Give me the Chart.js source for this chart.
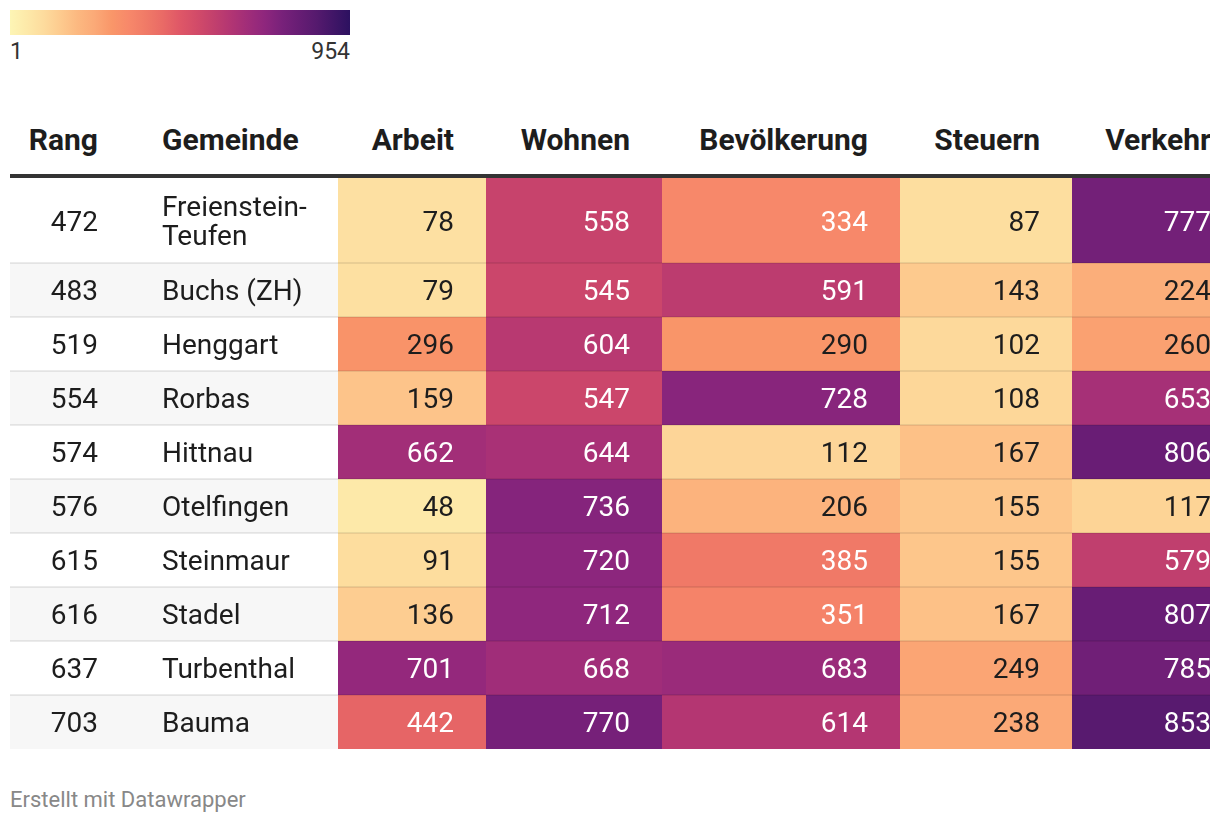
<!DOCTYPE html>
<html>
<head>
<meta charset="utf-8">
<script src="https://cdn.jsdelivr.net/npm/chart.js@4.4.1/dist/chart.umd.min.js"></script>
<style>
    html, body { margin: 0; padding: 0; background: #fff; overflow: hidden; width: 1220px; height: 824px; font-family: Roboto, "Noto Sans", sans-serif; }
    #legendBar { position: absolute; left: 10px; top: 10px; width: 340px; height: 25px; }
    .legendLabel { position: absolute; top: 38px; font-size: 23px; line-height: 28px; color: #333; }
    #tableWrap { position: absolute; left: 10px; top: 100px; width: 1200px; height: 650px; overflow: hidden; }
    #header { position: absolute; left: 0; top: 0; width: 1233px; height: 74px; }
    .th { position: absolute; top: 22px; font-size: 30px; font-weight: 700; line-height: 36px; color: #1d1d1d; white-space: nowrap; box-sizing: border-box; }
    #rule { position: absolute; left: 0; top: 74px; width: 1233px; height: 4px; background: #333; }
    #chartBox { position: absolute; left: 0; top: 78px; }
    #footer { position: absolute; left: 10px; top: 787px; font-size: 22px; line-height: 26px; color: #888; }
</style>
</head>
<body>
<div id="legendBar"></div>
<div class="legendLabel" id="legendMin" style="left:10px"></div>
<div class="legendLabel" id="legendMax" style="right:870px"></div>

<div id="tableWrap">
    <div id="header"></div>
    <div id="rule"></div>
    <div id="chartBox"><canvas id="heatTable"></canvas></div>
</div>

<div id="footer">Erstellt mit Datawrapper</div>

<script>
// Table data
const rang = [472, 483, 519, 554, 574, 576, 615, 616, 637, 703];
const gemeinde = ['Freienstein-Teufen', 'Buchs (ZH)', 'Henggart', 'Rorbas', 'Hittnau', 'Otelfingen', 'Steinmaur', 'Stadel', 'Turbenthal', 'Bauma'];
const arbeit = [78, 79, 296, 159, 662, 48, 91, 136, 701, 442];
const wohnen = [558, 545, 604, 547, 644, 736, 720, 712, 668, 770];
const bevoelkerung = [334, 591, 290, 728, 112, 206, 385, 351, 683, 614];
const steuern = [87, 143, 102, 108, 167, 155, 155, 167, 249, 238];
const verkehr = [777, 224, 260, 653, 806, 117, 579, 807, 785, 853];
const columnLabels = ['Rang', 'Gemeinde', 'Arbeit', 'Wohnen', 'Bevölkerung', 'Steuern', 'Verkehr'];

// Colour scale (legend range 1 - 954)
const scaleMin = 1;
const scaleMax = 954;
const scaleStops = [0, 0.05, 0.10, 0.15, 0.20, 0.25, 0.30, 0.35, 0.40, 0.45, 0.50, 0.55, 0.60, 0.65, 0.70, 0.75, 0.80, 0.85, 0.90, 1];
const scaleColors = ['#fdf5b5', '#fde9a9', '#fddb9d', '#fdca8e', '#fcb880', '#fba977', '#f99669', '#f7886a', '#f07a67', '#e96a66',
                     '#df5767', '#d24b69', '#c2406d', '#b23573', '#a02d79', '#8e267d', '#78217a', '#671d74', '#561a6e', '#2c1160'];

// Layout
const colEdges = [0, 120, 328, 476, 652, 890, 1062, 1233];
const cellPad = 32;
const bodyFont = '28px Roboto, "Noto Sans", sans-serif';
const lineGap = 29;

function hexToRgb(h) {
    return [parseInt(h.slice(1, 3), 16), parseInt(h.slice(3, 5), 16), parseInt(h.slice(5, 7), 16)];
}

function heatColor(v) {
    const t = Math.max(0, Math.min(1, (v - scaleMin) / (scaleMax - scaleMin)));
    let i = 0;
    while (i < scaleStops.length - 2 && t > scaleStops[i + 1]) i++;
    const f = (t - scaleStops[i]) / (scaleStops[i + 1] - scaleStops[i]);
    const a = hexToRgb(scaleColors[i]), b = hexToRgb(scaleColors[i + 1]);
    const c = a.map((x, k) => Math.round(x + (b[k] - x) * f));
    return 'rgb(' + c.join(',') + ')';
}

// Legend
document.getElementById('legendBar').style.background = 'linear-gradient(to right, ' +
    scaleColors.map((c, i) => c + ' ' + (scaleStops[i] * 100) + '%').join(', ') + ')';
document.getElementById('legendMin').textContent = scaleMin;
document.getElementById('legendMax').textContent = scaleMax;

// Header
const header = document.getElementById('header');
columnLabels.forEach((label, c) => {
    const th = document.createElement('div');
    th.className = 'th';
    th.textContent = label;
    if (c === 1) {
        th.style.left = (colEdges[c] + cellPad) + 'px';
    } else {
        th.style.right = (colEdges[colEdges.length - 1] - colEdges[c + 1] + cellPad) + 'px';
    }
    header.appendChild(th);
});

// Wrap long names (break after hyphen)
const measureCtx = document.createElement('canvas').getContext('2d');
measureCtx.font = bodyFont;
function wrapText(text, maxWidth) {
    const parts = text.split(/(?<=-)|\s+/);
    const lines = [];
    let line = '';
    parts.forEach(p => {
        const sep = line && !line.endsWith('-') ? ' ' : '';
        const test = line + sep + p;
        if (line && measureCtx.measureText(test).width > maxWidth) {
            lines.push(line);
            line = p;
        } else {
            line = test;
        }
    });
    lines.push(line);
    return lines;
}

const nameLines = gemeinde.map(g => wrapText(g, colEdges[2] - colEdges[1] - 2 * cellPad + 6));
const rowHeights = nameLines.map(l => l.length > 1 ? 85 : 54);
const rowTops = [];
let total = 0;
rowHeights.forEach(h => { rowTops.push(total); total += h; });
const rowCenters = rowTops.map((t, r) => t + rowHeights[r] / 2);

const columns = [rang, gemeinde, arbeit, wohnen, bevoelkerung, steuern, verkehr];

// Separators and cell texts
const cellTextPlugin = {
    id: 'cellText',
    afterDatasetsDraw(chart) {
        const ctx = chart.ctx;
        const yScale = chart.scales.y;
        const area = chart.chartArea;
        ctx.save();
        ctx.fillStyle = 'rgba(0,0,0,0.08)';
        rowTops.forEach((t, r) => {
            if (r === 0) return;
            const py = yScale.getPixelForValue(t);
            ctx.fillRect(area.left, py - 1, area.right - area.left, 2);
        });

        ctx.font = bodyFont;
        ctx.textBaseline = 'alphabetic';
        chart.data.datasets.forEach((ds, r) => {
            chart.getDatasetMeta(r).data.forEach((bar, c) => {
                const p = bar.getProps(['x', 'base', 'y'], true);
                const left = Math.min(p.x, p.base);
                const right = Math.max(p.x, p.base);
                const value = columns[c][r];
                if (c >= 2) {
                    ctx.fillStyle = value > 315 ? '#ffffff' : '#1d1d1d';
                } else {
                    ctx.fillStyle = '#1d1d1d';
                }
                if (c === 1) {
                    const lines = nameLines[r];
                    ctx.textAlign = 'left';
                    lines.forEach((ln, k) => {
                        const off = (k - (lines.length - 1) / 2) * lineGap;
                        ctx.fillText(ln, left + cellPad, p.y + off + 10);
                    });
                } else {
                    ctx.textAlign = 'right';
                    ctx.fillText(String(value), right - cellPad, p.y + 10);
                }
            });
        });
        ctx.restore();
    }
};

const canvas = document.getElementById('heatTable');
canvas.width = colEdges[colEdges.length - 1];
canvas.height = total;

new Chart(canvas, {
    type: 'bar',
    data: {
        datasets: rang.map((_, r) => ({
            data: colEdges.slice(0, -1).map((x0, c) => ({ x: [x0, colEdges[c + 1]], y: rowCenters[r] })),
            backgroundColor: columns.map((col, c) => c < 2 ? (r % 2 ? '#f7f7f7' : '#ffffff') : heatColor(col[r])),
            barThickness: rowHeights[r],
            grouped: false,
            borderWidth: 0,
            borderSkipped: false,
            inflateAmount: 0
        }))
    },
    options: {
        indexAxis: 'y',
        responsive: false,
        animation: false,
        events: [],
        layout: { padding: 0 },
        scales: {
            x: { type: 'linear', min: 0, max: colEdges[colEdges.length - 1], offset: false, display: false },
            y: { type: 'linear', min: 0, max: total, reverse: true, offset: false, display: false }
        },
        plugins: {
            legend: { display: false },
            tooltip: { enabled: false }
        }
    },
    plugins: [cellTextPlugin]
});
</script>
</body>
</html>
